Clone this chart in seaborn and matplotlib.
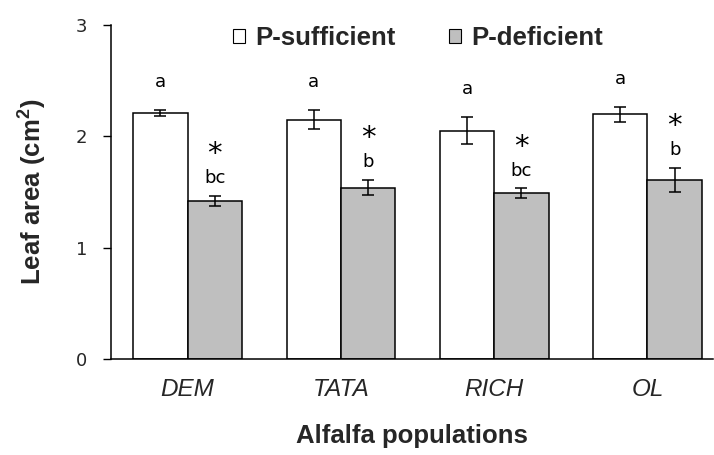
import matplotlib
matplotlib.use("Agg")
import matplotlib.pyplot as plt
import seaborn as sns
import pandas as pd
import numpy as np
from matplotlib.patches import Patch

populations = ["DEM", "TATA", "RICH", "OL"]
treatments = ["P-sufficient", "P-deficient"]
suff_mean = [2.21, 2.15, 2.05, 2.20]
suff_err = [0.025, 0.085, 0.12, 0.067]
def_mean = [1.42, 1.54, 1.49, 1.61]
def_err = [0.046, 0.069, 0.042, 0.11]
suff_letters = ["a", "a", "a", "a"]
def_letters = ["bc", "b", "bc", "b"]
def_star = ["*", "*", "*", "*"]
y_ticks = [0, 1, 2, 3]

sns.set_theme(style="white")
plt.rcParams['font.family'] = ['Liberation Sans', 'DejaVu Sans']

df = pd.DataFrame({
    "population": populations * 2,
    "treatment": [treatments[0]] * 4 + [treatments[1]] * 4,
    "area": suff_mean + def_mean,
    "err": suff_err + def_err,
})

fig = plt.figure(figsize=(7.14, 4.55), dpi=100)
ax = fig.add_axes([0.1555, 0.211, 0.843, 0.734])

colors = {"P-sufficient": "#FFFFFF", "P-deficient": "#BFBFBF"}
sns.barplot(data=df, x="population", y="area", hue="treatment",
            order=populations, hue_order=treatments, palette=colors,
            width=0.709, gap=0, errorbar=None, edgecolor="black",
            linewidth=1.1, legend=False, ax=ax)

# error bars & annotations
for ti, (means, errs) in enumerate([(suff_mean, suff_err), (def_mean, def_err)]):
    cont = ax.containers[ti]
    xs = [p.get_x() + p.get_width() / 2 for p in cont.patches]
    ax.errorbar(xs, means, yerr=errs, fmt="none", ecolor="black",
                elinewidth=1.1, capsize=4, capthick=1.1, zorder=5)
    for i, x in enumerate(xs):
        top = means[i] + errs[i]
        if ti == 0:
            ax.text(x, top + 0.17, suff_letters[i], ha="center", va="bottom",
                    fontsize=13, family=["DejaVu Sans"], color="black")
        else:
            ax.text(x, top + 0.08, def_letters[i], ha="center", va="bottom",
                    fontsize=13, family=["DejaVu Sans"], color="black")
            ax.text(x, top + 0.25, def_star[i], ha="center", va="bottom",
                    fontsize=21, family=["DejaVu Sans"], color="black")

ax.set_ylim(0, 3)
ax.set_xlim(-0.5, 3.427)
ax.set_yticks(y_ticks)
ax.set_yticklabels([str(t) for t in y_ticks], fontsize=13, family=["DejaVu Sans"])
ax.set_xticks(range(len(populations)))
ax.set_xticklabels(populations, fontsize=17.5, style="italic")
ax.tick_params(axis="y", which="both", left=True, length=6, width=1, pad=11, color="black")
ax.tick_params(axis="x", which="both", bottom=False, length=0, pad=14)

for s in ["top", "right"]:
    ax.spines[s].set_visible(False)
for s in ["left", "bottom"]:
    ax.spines[s].set_color("black")
    ax.spines[s].set_linewidth(1.1)

ax.set_xlabel("Alfalfa populations", fontsize=18.5, fontweight="bold", labelpad=16)
ax.set_ylabel("Leaf area (cm$^\\mathregular{2}$)", fontsize=18.5, fontweight="bold", labelpad=20)

handles = [Patch(facecolor=colors[t], edgecolor="black", linewidth=0.8) for t in treatments]
leg = ax.legend(handles, treatments, ncol=2, frameon=False,
                loc="center", bbox_to_anchor=(418 / 714, 1 - 38 / 455),
                bbox_transform=fig.transFigure,
                prop={"weight": "bold", "size": 18.5},
                handlelength=0.45, handleheight=0.45, handletextpad=0.4,
                columnspacing=2.1)

fig.savefig("out.png", dpi=100)
